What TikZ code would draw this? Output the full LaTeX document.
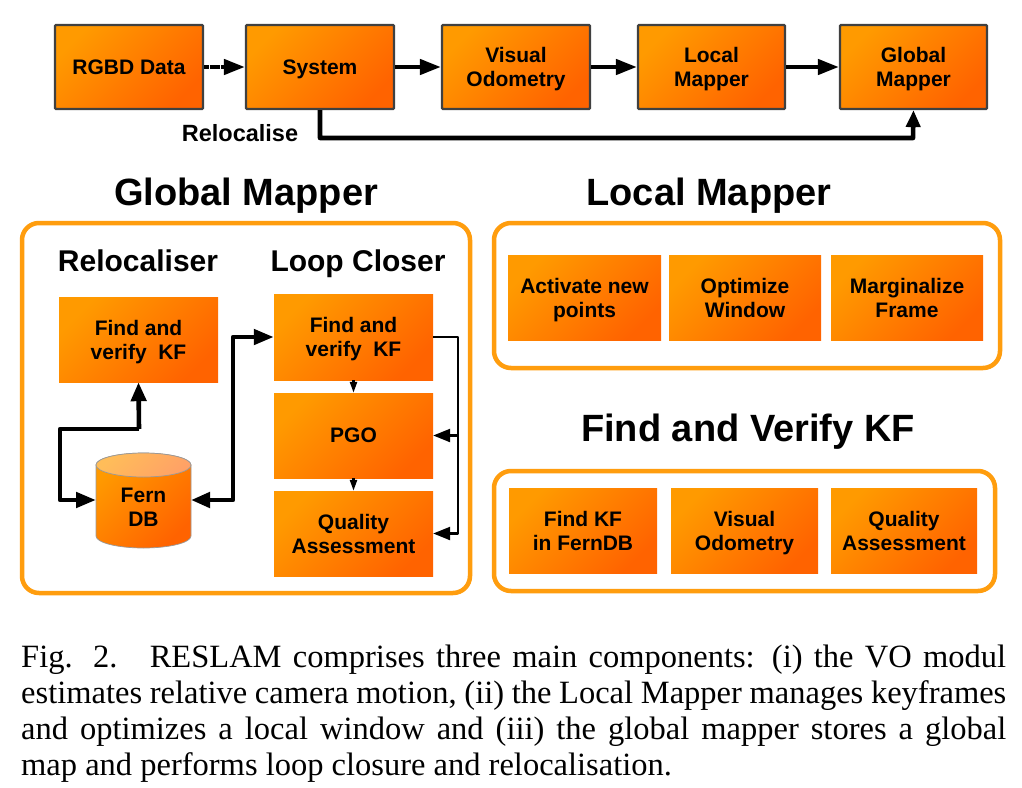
\documentclass[tikz,border=0pt]{standalone}
\usepackage{fontspec}
\setmainfont{Liberation Serif}
\newfontfamily\lsans{Liberation Sans}
\usetikzlibrary{arrows.meta,calc}
\newcommand{\oneline}[1]{\rule{0pt}{19pt}#1\rule[-4.5pt]{0pt}{4.5pt}}
\newcommand{\twolines}[2]{\rule{0pt}{19.5pt}#1\\#2\rule[-4.5pt]{0pt}{4.5pt}}
\tikzset{
  x=1pt,y=-1pt,
  grad/.style={shading=axis,left color=ogA,right color=ogB,shading angle=45},
  boxbase/.style={grad,inner sep=0pt,align=center,font=\lsans\bfseries\fontsize{21}{24}\selectfont},
  topbox/.style={boxbase,draw=black!75,line width=2.2pt,rounded corners=1pt},
  flatbox/.style={boxbase},
  frame/.style={draw=frameog,line width=4.5pt,rounded corners=17pt,fill=white},
  title/.style={font=\lsans\bfseries\fontsize{38}{42}\selectfont,inner sep=0pt,anchor=base},
  sub/.style={font=\lsans\bfseries\fontsize{30}{32}\selectfont,inner sep=0pt,anchor=base},
  bigtip/.style={-{Triangle[length=21pt,width=15pt]}},
  bigline/.style={line width=4.4pt,black,bigtip},
  midline/.style={line width=4.6pt,black,line join=round},
  thinline/.style={line width=2.4pt,black,line join=round},
  capt/.style={anchor=base west,inner sep=0pt,font=\fontsize{32.5}{36}\selectfont},
}
\definecolor{ogA}{HTML}{FF9A00}
\definecolor{ogB}{HTML}{FF6300}
\definecolor{frameog}{HTML}{FF9D0E}
\begin{document}
\begin{tikzpicture}
\useasboundingbox (0,0) rectangle (1022,787);
\fill[white] (0,0) rectangle (1022,787);
% top row
\node[topbox,minimum width=148pt,minimum height=84pt] (rgbd) at (129,67) {\oneline{RGBD Data}};
\node[topbox,minimum width=148pt,minimum height=84pt] (sys) at (320,67) {\oneline{System}};
\node[topbox,minimum width=148pt,minimum height=84pt] (vo) at (516,67) {\twolines{Visual}{Odometry}};
\node[topbox,minimum width=147pt,minimum height=84pt] (lm) at (711.5,67) {\twolines{Local}{Mapper}};
\node[topbox,minimum width=147pt,minimum height=84pt] (gm) at (913.5,67) {\twolines{Global}{Mapper}};
\draw[line width=4.4pt,dash pattern=on 5pt off 0.5pt] (rgbd.east) -- ++(21,0) coordinate (dd);
\draw[bigline] (dd) -- (sys.west);
\draw[bigline] (sys.east) -- (vo.west);
\draw[bigline] (vo.east) -- (lm.west);
\draw[bigline] (lm.east) -- (gm.west);
\draw[midline,-{Triangle[length=17pt,width=14pt]}] (sys.south) |- (913,138) -- (gm.south);
\node[font=\lsans\bfseries\fontsize{23.5}{26}\selectfont,inner sep=0pt] (reloc) at (240,133) {Relocalise};
% titles
\node[title] (tgm) at (246,205) {Global Mapper};
\node[title] (tlm) at (709,205) {Local Mapper};
\node[title] (tfv) at (748,441) {Find and Verify KF};
% frames
\draw[frame] (22,223) rectangle (470,593);
\draw[frame] (494,223) rectangle (1000,368);
\draw[frame] (494,471) rectangle (995,591);
\node[sub] (trl) at (138,271) {Relocaliser};
\node[sub] (tlc) at (358,271) {Loop Closer};
% local mapper boxes
\node[flatbox,minimum width=153pt,minimum height=85pt] (an) at (584.5,297.5) {\twolines{Activate new}{points}};
\node[flatbox,minimum width=152pt,minimum height=85pt] (ow) at (745,297.5) {\twolines{Optimize}{Window}};
\node[flatbox,minimum width=152pt,minimum height=85pt] (mf) at (907,297.5) {\twolines{Marginalize}{Frame}};
% find verify boxes
\node[flatbox,minimum width=148pt,minimum height=85pt] (fk) at (583,530.5) {\twolines{Find KF}{in FernDB}};
\node[flatbox,minimum width=147pt,minimum height=85pt] (fv) at (744.5,530.5) {\twolines{Visual}{Odometry}};
\node[flatbox,minimum width=146pt,minimum height=85pt] (fq) at (904,530.5) {\twolines{Quality}{Assessment}};
% global mapper boxes
\node[flatbox,minimum width=159pt,minimum height=85pt] (rf) at (138.5,339.5) {\twolines{Find and}{verify\ \ KF}};
\node[flatbox,minimum width=159pt,minimum height=86pt] (lf) at (353.5,337) {\twolines{Find and}{verify\ \ KF}};
\node[flatbox,minimum width=159pt,minimum height=85pt] (pgo) at (353.5,435.5) {\oneline{PGO}};
\node[flatbox,minimum width=159pt,minimum height=85pt] (qa) at (353.5,533.5) {\twolines{Quality}{Assessment}};
% cylinder
\draw[grad,draw=black!40,line width=.7pt] (96,465) -- (96,536) arc[start angle=180,end angle=360,x radius=47.5pt,y radius=12pt] -- (191,465) arc[start angle=0,end angle=180,x radius=47.5pt,y radius=12pt] -- cycle;
\draw[shading=axis,left color=ogA!65!white,right color=ogB!60!white,shading angle=45,draw=black!40,line width=.7pt] (143.5,465) ellipse[x radius=47.5pt,y radius=12pt];
\node[inner sep=0pt,minimum width=95pt,minimum height=60pt,align=center,font=\lsans\bfseries\fontsize{21}{24}\selectfont] (fern) at (143.5,507) {Fern\\DB};
\coordinate (fw) at (96,500);
\coordinate (fe) at (191,500);
% connectors
\draw[midline,{Triangle[length=19pt,width=15pt]}-{Triangle[length=20pt,width=15pt]}] (fe) -- (233,500) |- (lf.west);
\draw[midline,-{Triangle[length=19pt,width=15pt]}] (139,429) -- (rf.south);
\draw[midline,-{Triangle[length=20pt,width=15pt]}] (139,429) -- (60,429) -- (60,500) -- (fw);
\draw[thinline,-{Triangle[length=11pt,width=7pt]}] (lf.south) -- (pgo.north);
\draw[thinline,-{Triangle[length=11pt,width=7pt]}] (pgo.south) -- (qa.north);
\draw[thinline,-{Triangle[length=17pt,width=13pt]}] (lf.east) -- (458,337) -- (458,533.5) -- (qa.east);
\draw[thinline,-{Triangle[length=17pt,width=13pt]}] (458,435.5) -- (pgo.east);
% caption
\node[capt] (c1) at (21,667) {\makebox[985pt][s]{Fig. 2.\hspace{12pt} RESLAM comprises three main components: (i) the VO modul}};
\node[capt] (c2) at (21,703) {\makebox[985pt][s]{estimates relative camera motion, (ii) the Local Mapper manages keyframes}};
\node[capt] (c3) at (21,739) {\makebox[985pt][s]{and optimizes a local window and (iii) the global mapper stores a global}};
\node[capt] (c4) at (21,775) {map and performs loop closure and relocalisation.};
\end{tikzpicture}
\end{document}
